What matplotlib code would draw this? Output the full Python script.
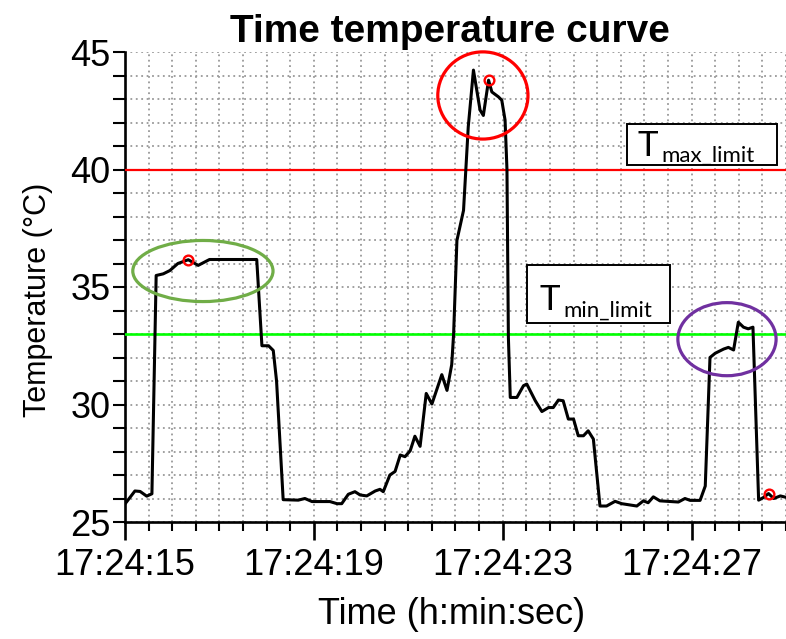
import matplotlib.pyplot as plt
from matplotlib import font_manager
from matplotlib.patches import Ellipse, Rectangle
from matplotlib.ticker import MultipleLocator, FixedLocator

# time in seconds after 17:24:00, temperature in degC
seconds = [15.02, 15.21, 15.32, 15.46, 15.57, 15.66, 15.81, 15.95, 16.12, 16.34,
           16.55, 16.79, 17.79, 17.90, 18.04, 18.14, 18.21, 18.35, 18.67, 18.81,
           18.96, 19.34, 19.49, 19.59, 19.73, 19.87, 19.98, 20.12, 20.30, 20.40,
           20.47, 20.61, 20.72, 20.83, 20.93, 21.04, 21.14, 21.25, 21.38, 21.50,
           21.71, 21.82, 21.92, 21.96, 22.03, 22.17, 22.27, 22.38, 22.52, 22.59,
           22.70, 22.77, 22.91, 22.98, 23.05, 23.09, 23.12, 23.16, 23.30, 23.44,
           23.51, 23.69, 23.83, 23.97, 24.07, 24.18, 24.28, 24.39, 24.50, 24.60,
           24.71, 24.81, 24.92, 25.06, 25.20, 25.38, 25.52, 25.84, 25.98, 26.08,
           26.19, 26.33, 26.72, 26.86, 26.97, 27.18, 27.29, 27.39, 27.50, 27.68,
           27.78, 27.89, 27.99, 28.10, 28.20, 28.30, 28.42, 28.52, 28.63, 28.74,
           28.88, 29.00]
temps = [25.82, 26.32, 26.30, 26.10, 26.20, 35.49, 35.56, 35.70, 36.00, 36.16,
         35.92, 36.17, 36.17, 32.50, 32.50, 32.30, 31.00, 25.95, 25.93, 26.00,
         25.87, 25.87, 25.78, 25.78, 26.18, 26.29, 26.15, 26.11, 26.32, 26.39,
         26.29, 27.00, 27.15, 27.85, 27.78, 28.03, 28.65, 28.22, 30.47, 30.02,
         31.27, 30.60, 31.70, 33.00, 36.98, 38.26, 41.81, 44.23, 42.53, 42.30,
         43.80, 43.30, 43.09, 42.95, 42.10, 40.00, 32.86, 30.30, 30.30, 30.80,
         30.87, 30.16, 29.70, 29.87, 29.87, 30.19, 30.16, 29.38, 29.38, 28.67,
         28.67, 28.88, 28.53, 25.68, 25.68, 25.88, 25.78, 25.68, 25.90, 25.82,
         26.07, 25.90, 25.85, 26.00, 25.92, 25.92, 26.53, 32.00, 32.18, 32.36,
         32.43, 32.32, 33.50, 33.29, 33.22, 33.29, 25.93, 26.04, 26.21, 26.00,
         26.11, 26.05]

t_max_limit = 40
t_min_limit = 33

# marked points (small red circles)
mark_t = [16.34, 22.70, 28.63]
mark_T = [36.16, 43.80, 26.21]

# highlighted regions: centre time, centre temp, width (s), height (degC), colour
regions = [
    (16.65, 35.68, 2.97, 2.6, "#70AD47"),
    (22.58, 43.15, 1.91, 3.71, "#FF0000"),
    (27.75, 32.78, 2.08, 3.11, "#7030A0"),
]

tick_secs = [15, 19, 23, 27]
tick_labels = ["17:24:15", "17:24:19", "17:24:23", "17:24:27"]

W, H = 786, 639


def fx(px):
    return px / W


def fy(py):
    return 1 - py / H


names = {f.name for f in font_manager.fontManager.ttflist}
if "Liberation Sans Narrow" in names:
    tick_font, tick_size, lab_size = "Liberation Sans Narrow", 30, 31
else:
    tick_font, tick_size, lab_size = "Liberation Sans", 26, 26

fig = plt.figure(figsize=(W / 100, H / 100), dpi=100)
ax = fig.add_axes([fx(125), fy(522), fx(786 - 125), (522 - 52) / H])

ax.plot(seconds, temps, color="black", lw=2.2, zorder=4)
ax.axhline(t_max_limit, color="#FF0000", lw=1.6, zorder=3)
ax.axhline(t_min_limit, color="#00FF00", lw=1.9, zorder=3)
ax.plot(mark_t, mark_T, "o", ms=7, mfc="none", mec="#FF0000", mew=1.7, zorder=5,
        clip_on=False)

for ct, cT, w, h, col in regions:
    ax.add_patch(Ellipse((ct, cT), w, h, fill=False, ec=col, lw=2.3, zorder=5,
                         clip_on=False))

ax.set_xlim(15, 29)
ax.set_ylim(25, 45)
ax.xaxis.set_major_locator(FixedLocator(tick_secs))
ax.set_xticklabels(tick_labels)
ax.xaxis.set_minor_locator(MultipleLocator(0.5))
ax.yaxis.set_major_locator(MultipleLocator(5))
ax.yaxis.set_minor_locator(MultipleLocator(1))

ax.grid(which="both", color="#999999", ls=(0, (1, 2)), lw=1.3)
ax.set_axisbelow(True)

for s in ["top", "right"]:
    ax.spines[s].set_visible(False)
for s in ["left", "bottom"]:
    ax.spines[s].set_linewidth(1.9)

ax.tick_params(axis="x", which="major", direction="out", length=13, width=1.9, pad=6)
ax.tick_params(axis="x", which="minor", direction="out", length=6.5, width=1.5)
ax.tick_params(axis="y", which="both", direction="out", length=8.5, width=1.5, pad=2)
for lab in ax.get_xticklabels() + ax.get_yticklabels():
    lab.set_fontfamily(tick_font)
    lab.set_fontsize(tick_size)

fig.text(fx(450), fy(42), "Time temperature curve", ha="center", va="baseline",
         fontsize=28, fontweight="bold", family="Liberation Sans")
fig.text(fx(452), fy(624), "Time (h:min:sec)", ha="center", va="baseline",
         fontsize=lab_size, family=tick_font)
fig.text(fx(38), fy(300), "Temperature (°C)", ha="center", va="center",
         rotation=90, fontsize=lab_size - 4, family=tick_font)

# limit labels in boxes
boxes = [
    ((627, 124, 777, 165), (637, 156), (661, 162), "max_limit"),
    ((527, 265, 670, 323), (539, 310), (563, 317), "min_limit"),
]
for (x0, y0, x1, y1), tpos, spos, sub in boxes:
    fig.patches.append(Rectangle((fx(x0), fy(y1)), fx(x1 - x0), (y1 - y0) / H,
                                 transform=fig.transFigure, fill=True, fc="white",
                                 ec="black", lw=1.4, zorder=6))
    fig.text(fx(tpos[0]), fy(tpos[1]), "T", ha="left", va="baseline",
             fontsize=25, family="Lato", zorder=7)
    fig.text(fx(spos[0]), fy(spos[1]), sub, ha="left", va="baseline",
             fontsize=16, family="Lato", zorder=7)

fig.savefig("out.png", dpi=100)
